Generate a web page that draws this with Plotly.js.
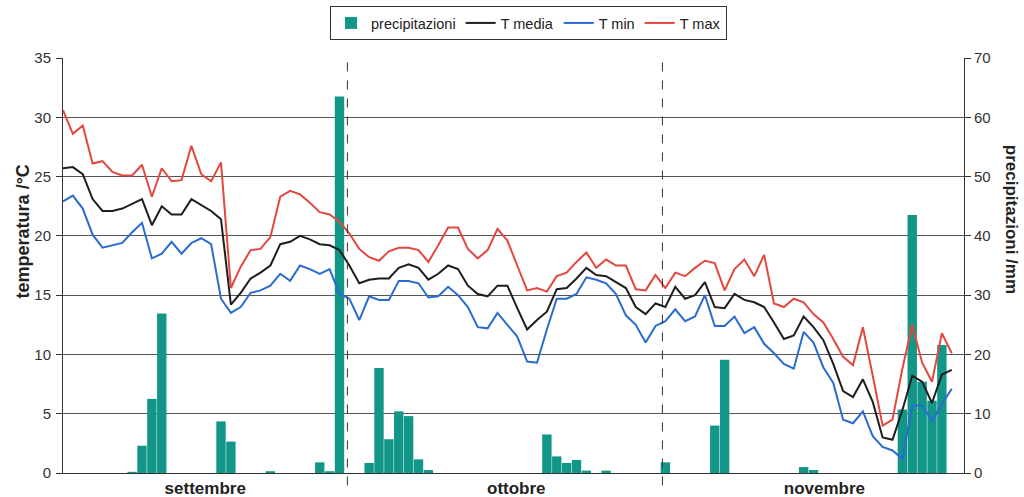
<!DOCTYPE html>
<html>
<head>
<meta charset="utf-8">
<script src="https://cdn.plot.ly/plotly-3.0.1.min.js"></script>
<style>html,body{margin:0;padding:0;background:#fff;}#chart{width:1024px;height:497px;}</style>
</head>
<body>
<div id="chart"></div>
<script>
// Day index (1 Sep = 0 ... 30 Nov = 90)
const days = Array.from({length: 91}, (_, i) => i);

const tMax = [30.6,28.6,29.3,26.1,26.3,25.4,25.1,25.1,26.0,23.3,25.7,24.6,24.7,27.6,25.2,24.6,26.2,15.6,17.4,18.8,
  18.9,19.9,23.3,23.8,23.5,22.8,22.0,21.8,21.2,20.2,18.9,18.2,17.9,18.7,19.0,19.0,18.8,17.8,19.2,20.7,
  20.7,18.9,18.1,18.8,20.6,19.6,17.5,15.4,15.6,15.3,16.6,16.9,17.8,18.6,17.3,18.0,17.5,17.5,15.5,15.4,
  16.7,15.6,16.9,16.6,17.3,17.9,17.7,15.4,17.2,18.0,16.6,18.4,14.3,14.0,14.7,14.4,13.4,12.7,11.3,9.8,
  9.1,12.3,8.2,4.0,4.5,8.8,12.5,9.3,7.7,11.8,10.1];

const tMedia = [25.7,25.8,25.2,23.1,22.1,22.1,22.3,22.7,23.1,20.9,22.5,21.8,21.8,23.1,22.6,22.1,21.4,14.2,15.2,16.4,
  16.9,17.5,19.3,19.5,20.0,19.7,19.3,19.2,18.8,17.5,16.0,16.3,16.4,16.4,17.3,17.6,17.3,16.3,16.8,17.5,
  17.2,15.8,15.1,14.9,15.8,15.8,13.9,12.1,12.9,13.6,15.5,15.6,16.4,17.3,16.7,16.6,16.1,15.6,14.0,13.4,
  14.3,14.0,15.7,14.7,15.0,16.1,14.0,13.9,15.1,14.6,14.4,14.0,12.7,11.3,11.6,13.2,12.3,11.2,9.2,6.9,
  6.4,7.9,6.0,3.0,2.8,5.3,8.2,7.7,5.9,8.3,8.7];

const tMin = [22.9,23.4,22.3,20.1,19.0,19.2,19.4,20.3,21.1,18.1,18.5,19.5,18.5,19.4,19.8,19.3,14.7,13.5,14.0,15.2,
  15.4,15.8,16.8,16.2,17.5,17.2,16.8,17.2,15.1,14.7,12.9,14.9,14.6,14.6,16.2,16.2,16.0,14.8,14.9,15.7,
  15.0,14.0,12.3,12.2,13.5,12.5,11.5,9.4,9.3,12.1,14.7,14.7,15.1,16.5,16.3,16.0,15.1,13.3,12.5,11.0,
  12.4,12.8,13.8,12.8,13.2,15.0,12.4,12.4,13.2,11.8,12.3,10.9,10.1,9.2,8.8,11.9,11.0,8.9,7.6,4.5,
  4.2,5.2,3.1,2.2,1.9,1.2,5.7,5.7,4.4,5.8,7.1];

const precip = [0,0,0,0,0,0,0,0.2,4.6,12.5,26.9,0,0,0,0,0,8.7,5.3,0,0,
  0,0.3,0,0,0,0,1.8,0.3,63.5,0,0,1.7,17.7,5.7,10.4,9.6,2.3,0.5,0,0,
  0,0,0,0,0,0,0,0,0,6.5,2.8,1.7,2.2,0.4,0,0.4,0,0,0,0,
  0,1.8,0,0,0,0,8.0,19.1,0,0,0,0,0,0,0,1.0,0.5,0,0,0,
  0,0,0,0,0,10.7,43.5,15.4,12.2,21.6,0];

const monthNames = ['settembre', 'ottobre', 'novembre'];
const tempTicks = [0, 5, 10, 15, 20, 25, 30, 35];
const precipTicks = [0, 10, 20, 30, 40, 50, 60, 70];

// layout constants (positions of label centres and month separators, in day units)
const monthLabelPos = [14.4, 45.9, 77.1];
const separatorPos = [28.8, 60.7];

const FONT = 'Liberation Sans, Arial, sans-serif';

const traces = [
  {type: 'bar', name: 'precipitazioni', x: days, y: precip, yaxis: 'y',
   width: 0.95, marker: {color: '#129688', line: {width: 0}}},
  {type: 'scatter', mode: 'lines', name: 'T media', x: days, y: tMedia, yaxis: 'y2',
   line: {color: '#1e1e1e', width: 2}},
  {type: 'scatter', mode: 'lines', name: 'T min', x: days, y: tMin, yaxis: 'y2',
   line: {color: '#2a6bd1', width: 2}},
  {type: 'scatter', mode: 'lines', name: 'T max', x: days, y: tMax, yaxis: 'y2',
   line: {color: '#e4473d', width: 2}}
];

const layout = {
  width: 1024, height: 497,
  margin: {l: 63, r: 60, t: 58, b: 24, pad: 0},
  paper_bgcolor: '#fff', plot_bgcolor: '#fff',
  font: {family: FONT, color: '#333'},
  showlegend: true,
  legend: {
    orientation: 'h', xref: 'container', yref: 'container',
    x: 330/1024, y: 1 - 6/497, xanchor: 'left', yanchor: 'top',
    bordercolor: '#333', borderwidth: 1, bgcolor: '#fff',
    font: {family: FONT, size: 14.5, color: '#222'},
    itemwidth: 30, traceorder: 'normal'
  },
  xaxis: {
    range: [0, 91.24], showgrid: false, zeroline: false,
    showline: true, linecolor: '#333', linewidth: 1,
    tickmode: 'array', tickvals: monthLabelPos, ticktext: monthNames,
    ticks: '', ticklen: 0, ticklabelstandoff: 0,
    tickfont: {family: FONT, size: 17, weight: 'bold', color: '#222'},
    fixedrange: true
  },
  yaxis: {
    side: 'right', range: [0, 70], tickmode: 'array', tickvals: precipTicks,
    showgrid: true, gridcolor: '#555', gridwidth: 1,
    showline: true, linecolor: '#333', linewidth: 1, zeroline: false,
    ticks: 'outside', ticklen: 6, tickcolor: '#333',
    tickfont: {family: FONT, size: 15, color: '#333'}, fixedrange: true
  },
  yaxis2: {
    side: 'left', overlaying: 'y', range: [0, 35], tickmode: 'array', tickvals: tempTicks,
    showgrid: false, showline: true, linecolor: '#333', linewidth: 1, zeroline: false,
    ticks: 'outside', ticklen: 6, tickcolor: '#333', ticklabelstandoff: 2,
    tickfont: {family: FONT, size: 15, color: '#333'}, fixedrange: true
  },
  bargap: 0.05,
  shapes: separatorPos.map(p => ({
    type: 'line', xref: 'x', yref: 'paper', x0: p, x1: p, y0: -0.03, y1: 1,
    line: {color: '#333', width: 1, dash: 'dash'}
  })),
  annotations: [
    {text: 'temperatura /°C', xref: 'paper', yref: 'paper', x: -0.044, y: 0.583,
     xanchor: 'center', yanchor: 'middle', textangle: -90, showarrow: false,
     font: {family: FONT, size: 18, weight: 'bold', color: '#222'}},
    {text: 'precipitazioni /mm', xref: 'paper', yref: 'paper', x: 1.0535, y: 0.612,
     xanchor: 'center', yanchor: 'middle', textangle: 90, showarrow: false,
     font: {family: FONT, size: 17, weight: 'bold', color: '#222'}}
  ]
};

Plotly.newPlot('chart', traces, layout, {displayModeBar: false, staticPlot: true});
</script>
</body>
</html>
